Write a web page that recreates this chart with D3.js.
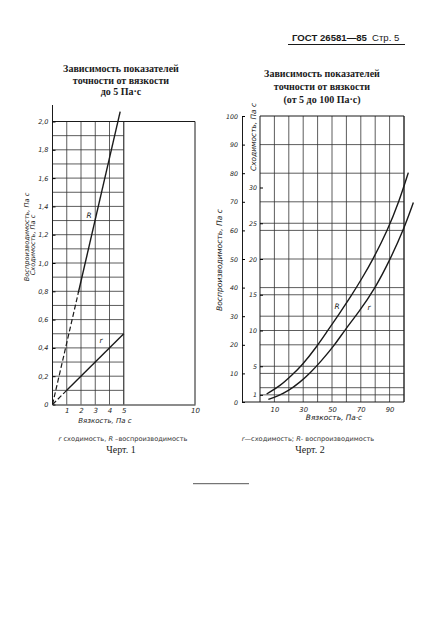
<!DOCTYPE html>
<html>
<head>
<meta charset="utf-8">
<script src="https://cdn.jsdelivr.net/npm/d3@7"></script>
<style>
  body { margin: 0; background: #fff; }
  svg { display: block; }
  .tick text { font-family: "DejaVu Sans", sans-serif; font-style: italic; fill: #222; }
</style>
</head>
<body>
<svg id="page" width="444" height="640"></svg>
<script>
// --- Черт. 1 (до 5 Па·с): прямые
const ch1ViscR = [0, 4.75];
const ch1R = [0, 2.07];
const ch1Viscr = [0, 5];
const ch1r = [0, 0.5];
const ch1DashTo = { R: 1.8, r: 1.0 };  // нижний участок штрихом
const ch1YTicks = [0, 0.2, 0.4, 0.6, 0.8, 1.0, 1.2, 1.4, 1.6, 1.8, 2.0];
const ch1XTicks = [1, 2, 3, 4, 5, 10];

// --- Черт. 2 (от 5 до 100 Па·с): кривые
const ch2ViscR = [4.6, 14, 22.5, 29, 39.5, 46.5, 55, 63.5, 71, 78.5, 88.5, 96.5, 103];
const ch2R = [2.8, 5.6, 9.6, 12.7, 19.4, 24.6, 30.8, 37.2, 43.4, 49.9, 60, 70, 80.2];
const ch2Viscr = [5.8, 12, 20, 28, 35, 42, 52, 59, 68, 80, 90.5, 99.5, 106.5];
const ch2r = [0.36, 0.8, 1.6, 2.8, 4.1, 5.6, 8.0, 10.1, 12.4, 15.9, 20, 24, 27.9];
const ch2RTicks = [0, 10, 20, 30, 40, 50, 60, 70, 80, 90, 100];
const ch2RGrid = [5, 10, 20, 30, 40, 50, 60, 70, 80, 90];
const ch2rTicks = [1, 5, 10, 15, 20, 25, 30];
const ch2rGrid = [1, 5, 10, 15, 25];
const ch2XTicks = [10, 30, 50, 70, 90];

const svg = d3.select('#page');
const ink = '#1a1a1a';
const comma = (d) => (d === 0 ? '0' : d3.format('.1f')(d).replace('.', ','));

// шапка
svg.append('text').attr('x', 292).attr('y', 41)
  .attr('font-family', 'Liberation Sans, sans-serif').attr('font-weight', 'bold')
  .attr('font-size', 9.6).attr('fill', ink).text('ГОСТ 26581—85');
svg.append('text').attr('x', 372).attr('y', 41)
  .attr('font-family', 'Liberation Sans, sans-serif')
  .attr('font-size', 9.6).attr('fill', ink).text('Стр. 5');
svg.append('line').attr('x1', 288).attr('x2', 405).attr('y1', 44.5).attr('y2', 44.5)
  .attr('stroke', ink).attr('stroke-width', 1.1);

const title = (cx, ys, lines) => {
  lines.forEach((t, i) => {
    svg.append('text').attr('x', cx).attr('y', ys[i]).attr('text-anchor', 'middle')
      .attr('font-family', 'Liberation Serif, serif').attr('font-weight', 'bold')
      .attr('font-size', 10).attr('fill', ink).text(t);
  });
};
title(121, [71.5, 83.5, 94.5], ['Зависимость показателей', 'точности от вязкости', 'до 5 Па·с']);
title(322, [76.5, 90, 102.5], ['Зависимость показателей', 'точности от вязкости', '(от 5 до 100 Па·с)']);

const italic = (x, y, t, size, anchor = 'middle', rot = 0) => {
  svg.append('text').attr('transform', `translate(${x},${y}) rotate(${rot})`)
    .attr('text-anchor', anchor).attr('font-family', 'DejaVu Sans, sans-serif')
    .attr('font-style', 'italic').attr('font-size', size).attr('fill', ink).text(t);
};

// ================= Черт. 1 =================
const x1 = d3.scaleLinear().domain([0, 10]).range([52.5, 195]);
const y1 = d3.scaleLinear().domain([0, 2]).range([404.5, 121.5]);
const g1 = svg.append('g');

// сетка 0..5 Па·с
g1.selectAll('.hg').data(y1.ticks(20).filter((d) => d > 0 && d < 2)).enter().append('line')
  .attr('x1', x1(0)).attr('x2', x1(5)).attr('y1', (d) => y1(d)).attr('y2', (d) => y1(d))
  .attr('stroke', '#333').attr('stroke-width', 0.8);
g1.selectAll('.vg').data([1, 2, 3, 4, 5]).enter().append('line')
  .attr('x1', (d) => x1(d)).attr('x2', (d) => x1(d)).attr('y1', y1(0)).attr('y2', y1(2))
  .attr('stroke', '#333').attr('stroke-width', (d) => (d === 5 ? 1.2 : 0.8));
// рамка
g1.append('path')
  .attr('d', `M${x1(0)},${y1(2)}H${x1(10)}V${y1(0)}`)
  .attr('fill', 'none').attr('stroke', ink).attr('stroke-width', 1);

g1.append('g').attr('transform', `translate(${x1(0)},0)`)
  .call(d3.axisLeft(y1).tickValues(ch1YTicks).tickFormat(comma).tickSizeInner(-3).tickSizeOuter(0).tickPadding(4))
  .call((g) => g.select('.domain').attr('d', `M0,${y1(0)}V105`).attr('stroke', ink))
  .call((g) => g.selectAll('text').attr('font-size', 6.5));
g1.append('g').attr('transform', `translate(0,${y1(0)})`)
  .call(d3.axisBottom(x1).tickValues(ch1XTicks).tickSize(0).tickPadding(4))
  .call((g) => g.select('.domain').attr('stroke', ink).attr('stroke-width', 1.2))
  .call((g) => g.selectAll('text').attr('font-size', 7));

const line1 = d3.line().x((d) => x1(d[0])).y((d) => y1(d[1]));
const drawStraight = (vx, vy, dashTo) => {
  const f = d3.scaleLinear().domain(vx).range(vy);
  const pts = vx.map((v, i) => [v, vy[i]]);
  g1.append('path').attr('d', line1([pts[0], [dashTo, f(dashTo)]]))
    .attr('fill', 'none').attr('stroke', ink).attr('stroke-width', 1.2)
    .attr('stroke-dasharray', '5,2.5');
  g1.append('path').attr('d', line1([[dashTo, f(dashTo)], pts[pts.length - 1]]))
    .attr('fill', 'none').attr('stroke', ink).attr('stroke-width', 1.4);
};
drawStraight(ch1ViscR, ch1R, ch1DashTo.R);
drawStraight(ch1Viscr, ch1r, ch1DashTo.r);
italic(89, 218, 'R', 7.5);
italic(101, 343, 'r', 7.5);

italic(29, 237, 'Воспроизводимость,   Па с', 6.6, 'middle', -90);
italic(35, 245, 'Сходимость, Па с', 6.6, 'middle', -90);
italic(105, 422.5, 'Вязкость, Па с', 7);

svg.append('text').attr('x', 123).attr('y', 440.5).attr('text-anchor', 'middle')
  .attr('font-family', 'DejaVu Sans, sans-serif').attr('font-size', 6.6).attr('fill', '#333')
  .html('<tspan font-style="italic">r</tspan>  сходимость, <tspan font-style="italic">R</tspan> –воспроизводимость');
svg.append('text').attr('x', 121).attr('y', 453).attr('text-anchor', 'middle')
  .attr('font-family', 'Liberation Serif, serif').attr('font-size', 10).attr('fill', ink).text('Черт. 1');

// ================= Черт. 2 =================
const x2 = d3.scaleLinear().domain([0, 100]).range([260, 404]);
const yR = d3.scaleLinear().domain([0, 100]).range([402, 116]);
const yr = d3.scaleLinear().domain([0, 40]).range([402, 116]);
const g2 = svg.append('g');

g2.selectAll('.vg').data(d3.range(10, 101, 10)).enter().append('line')
  .attr('x1', (d) => x2(d)).attr('x2', (d) => x2(d)).attr('y1', yR(0)).attr('y2', yR(100))
  .attr('stroke', '#333').attr('stroke-width', 0.8);
g2.selectAll('.hR').data(ch2RGrid).enter().append('line')
  .attr('x1', x2(0)).attr('x2', x2(100)).attr('y1', (d) => yR(d)).attr('y2', (d) => yR(d))
  .attr('stroke', '#333').attr('stroke-width', 0.8);
g2.selectAll('.hr').data(ch2rGrid).enter().append('line')
  .attr('x1', x2(0)).attr('x2', x2(100)).attr('y1', (d) => yr(d)).attr('y2', (d) => yr(d))
  .attr('stroke', '#333').attr('stroke-width', 0.8);
g2.append('path')
  .attr('d', `M${x2(0)},${yR(0)}V${yR(100)}H${x2(100)}V${yR(0)}`)
  .attr('fill', 'none').attr('stroke', ink).attr('stroke-width', 1);

// ось R (воспроизводимость)
g2.append('g').attr('transform', 'translate(242,0)')
  .call(d3.axisLeft(yR).tickValues(ch2RTicks).tickSizeInner(-3).tickSizeOuter(0).tickPadding(4))
  .call((g) => g.select('.domain').attr('stroke', ink))
  .call((g) => g.selectAll('text').attr('font-size', 6.3));
// ось r (сходимость)
g2.append('g').attr('transform', `translate(${x2(0)},0)`)
  .call(d3.axisLeft(yr).tickValues(ch2rTicks).tickSizeInner(-3).tickSizeOuter(0).tickPadding(3))
  .call((g) => g.select('.domain').remove())
  .call((g) => g.selectAll('text').attr('font-size', 6.3));
g2.append('g').attr('transform', `translate(0,${yR(0)})`)
  .call(d3.axisBottom(x2).tickValues(ch2XTicks).tickSize(0).tickPadding(5))
  .call((g) => g.select('.domain').attr('d', `M242,0H${x2(100)}`).attr('stroke', ink).attr('stroke-width', 1.2))
  .call((g) => g.selectAll('text').attr('font-size', 6.8));

const curveR = d3.line().curve(d3.curveBasis).x((d, i) => x2(ch2ViscR[i])).y((d) => yR(d));
const curver = d3.line().curve(d3.curveBasis).x((d, i) => x2(ch2Viscr[i])).y((d) => yr(d));
g2.append('path').datum(ch2R).attr('d', curveR)
  .attr('fill', 'none').attr('stroke', ink).attr('stroke-width', 1.4);
g2.append('path').datum(ch2r).attr('d', curver)
  .attr('fill', 'none').attr('stroke', ink).attr('stroke-width', 1.4);
italic(337, 309, 'R', 7.5);
italic(369, 310, 'r', 7.5);

italic(222, 260, 'Воспроизводимость, Па с', 7.6, 'middle', -90);
italic(256, 137, 'Сходимость, Па с', 7.4, 'middle', -90);
italic(334, 419.5, 'Вязкость, Па·с', 7.4);

svg.append('text').attr('x', 308).attr('y', 440.5).attr('text-anchor', 'middle')
  .attr('font-family', 'DejaVu Sans, sans-serif').attr('font-size', 6.6).attr('fill', '#333')
  .html('<tspan font-style="italic">r</tspan>—сходимость; <tspan font-style="italic">R</tspan>- воспроизводимость');
svg.append('text').attr('x', 310).attr('y', 453).attr('text-anchor', 'middle')
  .attr('font-family', 'Liberation Serif, serif').attr('font-size', 10).attr('fill', ink).text('Черт. 2');

// разделительная черта
svg.append('line').attr('x1', 193).attr('x2', 249).attr('y1', 483.7).attr('y2', 483.7)
  .attr('stroke', '#555').attr('stroke-width', 1);
</script>
</body>
</html>
